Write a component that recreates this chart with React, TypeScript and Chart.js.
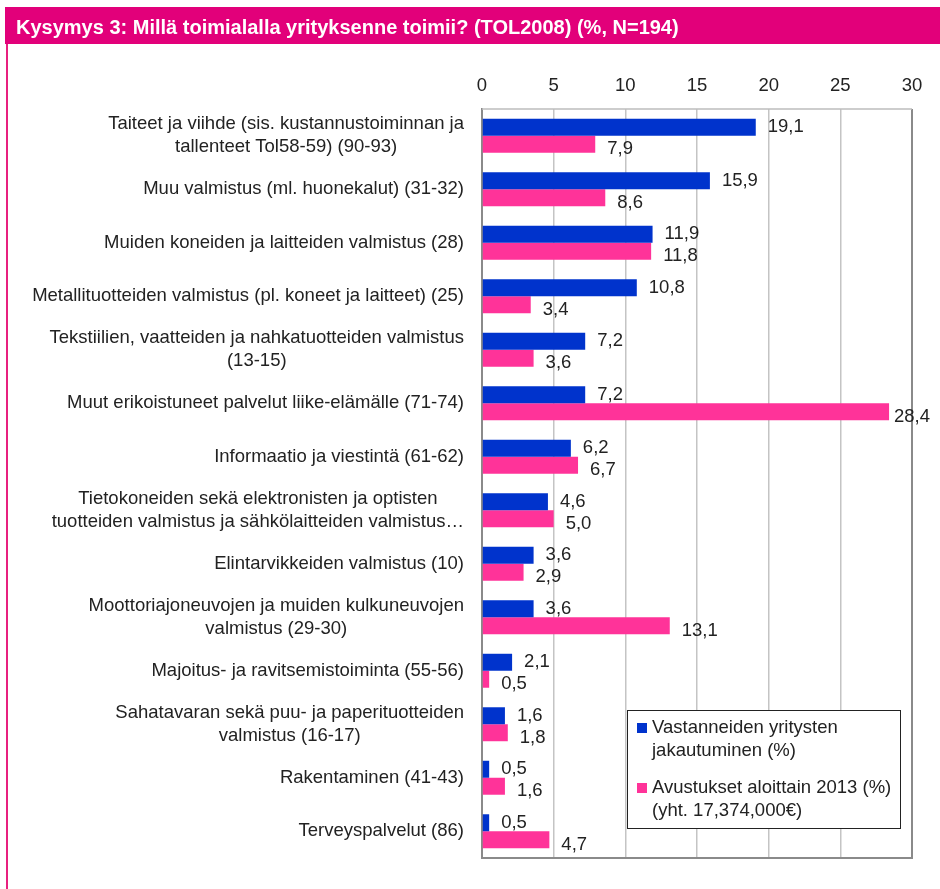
import React, { useEffect, useRef } from "react";
import { Chart, registerables } from "chart.js";

Chart.register(...registerables);

const TITLE = "Kysymys 3: Millä toimialalla yrityksenne toimii? (TOL2008) (%, N=194)";

const categories: string[][] = [
  ["Taiteet ja viihde (sis. kustannustoiminnan ja", "tallenteet Tol58-59) (90-93)"],
  ["Muu valmistus (ml. huonekalut) (31-32)"],
  ["Muiden koneiden ja laitteiden valmistus (28)"],
  ["Metallituotteiden valmistus (pl. koneet ja laitteet) (25)"],
  ["Tekstiilien, vaatteiden ja nahkatuotteiden valmistus", "(13-15)"],
  ["Muut erikoistuneet palvelut liike-elämälle (71-74)"],
  ["Informaatio ja viestintä (61-62)"],
  ["Tietokoneiden sekä elektronisten ja optisten", "tuotteiden valmistus ja sähkölaitteiden valmistus…"],
  ["Elintarvikkeiden valmistus (10)"],
  ["Moottoriajoneuvojen ja muiden kulkuneuvojen", "valmistus (29-30)"],
  ["Majoitus- ja ravitsemistoiminta (55-56)"],
  ["Sahatavaran sekä puu- ja paperituotteiden", "valmistus (16-17)"],
  ["Rakentaminen (41-43)"],
  ["Terveyspalvelut (86)"],
];

const respondents = [19.1, 15.9, 11.9, 10.8, 7.2, 7.2, 6.2, 4.6, 3.6, 3.6, 2.1, 1.6, 0.5, 0.5];
const grants = [7.9, 8.6, 11.8, 3.4, 3.6, 28.4, 6.7, 5.0, 2.9, 13.1, 0.5, 1.8, 1.6, 4.7];

const seriesNames: string[][] = [
  ["Vastanneiden yritysten", "jakautuminen (%)"],
  ["Avustukset aloittain 2013 (%)", "(yht. 17,374,000€)"],
];
const seriesColors = ["#0033CC", "#FF3399"];

const X_MIN = 0;
const X_MAX = 30;
const X_STEP = 5;

const FONT = '"Liberation Sans", Arial, sans-serif';
const FONT_SIZE = 18.5;
const TEXT_COLOR = "#222222";
const HEADER_COLOR = "#E2007A";

const fmt = (v: number) => v.toFixed(1).replace(".", ",");

const decorPlugin = {
  id: "decor",
  beforeDraw(chart: any) {
    const ctx = chart.ctx;
    ctx.save();
    ctx.fillStyle = "#ffffff";
    ctx.fillRect(0, 0, chart.width, chart.height);
    // header band
    ctx.fillStyle = HEADER_COLOR;
    ctx.fillRect(5, 7, chart.width - 5, 37);
    // left frame line
    ctx.fillStyle = "#E8207F";
    ctx.fillRect(6, 44, 2, chart.height - 44);
    // title
    ctx.fillStyle = "#ffffff";
    ctx.font = `bold 20px ${FONT}`;
    ctx.textAlign = "left";
    ctx.textBaseline = "middle";
    ctx.fillText(TITLE, 16, 28);
    ctx.restore();
  },
  afterDatasetsDraw(chart: any) {
    const ctx = chart.ctx;
    const area = chart.chartArea;
    const yScale = chart.scales.y;
    ctx.save();
    // top and bottom borders of the plot area
    ctx.strokeStyle = "#bdbdbd";
    ctx.lineWidth = 1.5;
    ctx.beginPath();
    ctx.moveTo(area.left, area.top);
    ctx.lineTo(area.right, area.top);
    ctx.stroke();
    ctx.strokeStyle = "#8a8a8a";
    ctx.lineWidth = 2;
    ctx.beginPath();
    ctx.moveTo(area.left - 1, area.bottom);
    ctx.lineTo(area.right + 1, area.bottom);
    ctx.stroke();

    // category labels
    ctx.font = `${FONT_SIZE}px ${FONT}`;
    ctx.fillStyle = TEXT_COLOR;
    ctx.textAlign = "center";
    ctx.textBaseline = "middle";
    const lineH = 23;
    categories.forEach((lines, i) => {
      const yc = yScale.getPixelForValue(i);
      const maxW = Math.max(...lines.map((l) => ctx.measureText(l).width));
      const cx = area.left - 18 - maxW / 2;
      const y0 = yc - ((lines.length - 1) * lineH) / 2;
      lines.forEach((l, j) => ctx.fillText(l, cx, y0 + j * lineH));
    });

    // value labels (kept inside the canvas)
    ctx.textAlign = "left";
    chart.data.datasets.forEach((ds: any, d: number) => {
      const meta = chart.getDatasetMeta(d);
      meta.data.forEach((el: any, i: number) => {
        const txt = fmt(ds.data[i]);
        const w = ctx.measureText(txt).width;
        const x = Math.min(el.x + 12, chart.width - 10 - w);
        ctx.fillText(txt, x, el.y + (d === 0 ? 0 : 5));
      });
    });

    // legend
    const lx = 627.5, ly = 710.5, lw = 273, lh = 118;
    ctx.fillStyle = "#ffffff";
    ctx.fillRect(lx, ly, lw, lh);
    ctx.strokeStyle = "#222222";
    ctx.lineWidth = 1;
    ctx.strokeRect(lx, ly, lw, lh);
    const entryY = [728, 788];
    seriesNames.forEach((lines, k) => {
      ctx.fillStyle = seriesColors[k];
      ctx.fillRect(637, entryY[k] - 5, 10, 10);
      ctx.fillStyle = TEXT_COLOR;
      lines.forEach((l, j) => ctx.fillText(l, 652, entryY[k] + j * 23));
    });
    ctx.restore();
  },
};

export default function App() {
  const ref = useRef<HTMLCanvasElement | null>(null);
  useEffect(() => {
    if (!ref.current) return;
    const chart = new Chart(ref.current, {
      type: "bar",
      data: {
        labels: categories.map((c) => c.join(" ")),
        datasets: [
          {
            label: seriesNames[0].join(" "),
            data: respondents,
            backgroundColor: seriesColors[0],
            barPercentage: 1,
            categoryPercentage: 0.635,
          },
          {
            label: seriesNames[1].join(" "),
            data: grants,
            backgroundColor: seriesColors[1],
            barPercentage: 1,
            categoryPercentage: 0.635,
          },
        ],
      },
      options: {
        indexAxis: "y",
        responsive: false,
        animation: false,
        devicePixelRatio: 1,
        layout: { padding: { left: 0, right: 28, top: 0, bottom: 31 } },
        plugins: {
          legend: { display: false },
          tooltip: { enabled: false },
        },
        scales: {
          x: {
            position: "top",
            min: X_MIN,
            max: X_MAX,
            ticks: {
              stepSize: X_STEP,
              font: { size: FONT_SIZE, family: FONT },
              color: TEXT_COLOR,
              padding: 12,
            },
            grid: {
              drawTicks: false,
              color: (c: any) => (c.tick && c.tick.value === X_MAX ? "#8a8a8a" : "#c4c4c4"),
              lineWidth: (c: any) => (c.tick && c.tick.value === X_MAX ? 2 : 1.5),
            },
            border: { display: false },
            afterFit: (s: any) => {
              s.height = 109;
            },
          },
          y: {
            position: "left",
            ticks: { display: false },
            grid: { display: false, drawTicks: false },
            border: { display: true, color: "#8a8a8a", width: 2 },
            afterFit: (s: any) => {
              s.width = 482;
            },
          },
        },
      },
      plugins: [decorPlugin],
    } as any);
    return () => chart.destroy();
  }, []);
  return (
    <div style={{ position: "absolute", left: 0, top: 0, width: 940, height: 889 }}>
      <canvas ref={ref} width={940} height={889} style={{ display: "block" }} />
    </div>
  );
}
